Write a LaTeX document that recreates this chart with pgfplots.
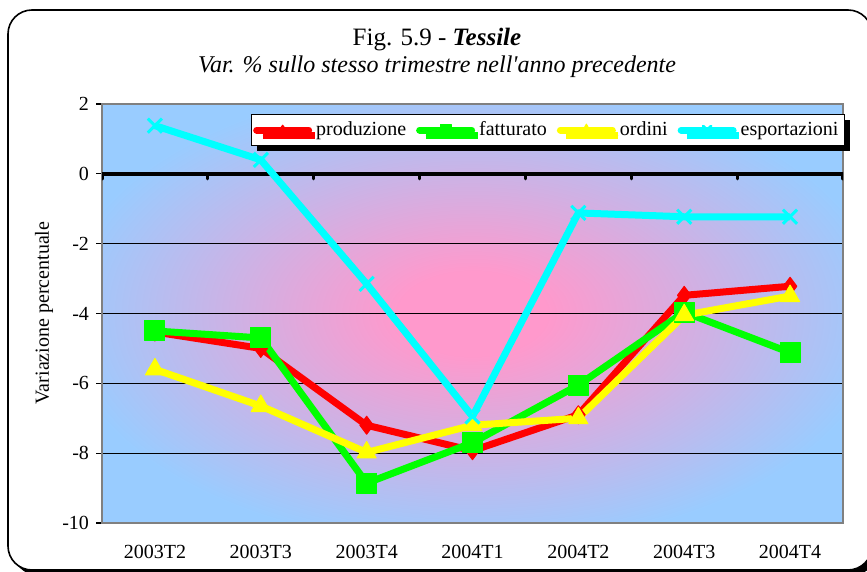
\documentclass[border=0pt]{standalone}
\usepackage{fontspec}
\setmainfont{Liberation Serif}
\usepackage{pgfplots}
\pgfplotsset{compat=1.18}
\usetikzlibrary{shadows}
\definecolor{bgpink}{HTML}{FF99CC}
\definecolor{bgblue}{HTML}{99CCFF}
\definecolor{cprod}{HTML}{FF0000}
\definecolor{cfatt}{HTML}{00FF00}
\definecolor{cord}{HTML}{FFFF00}
\definecolor{cesp}{HTML}{00FFFF}
\pgfdeclareradialshading{excelbg}{\pgfpoint{0bp}{0bp}}{color(0bp)=(bgpink); color(5bp)=(bgpink); color(28bp)=(bgblue); color(50bp)=(bgblue)}
\begin{document}
\begin{tikzpicture}
\fill[black, rounded corners=12pt] (6.5pt,-1.5pt) rectangle (438.5pt,278.5pt);
\draw[rounded corners=12pt, fill=white, line width=0.8pt] (4pt,1pt) rectangle (436pt,281pt);
\node[font=\fontsize{12.5}{14}\selectfont] at (218.5pt,266pt) {Fig. 5.9 - \textbf{\textit{Tessile}}};
\node[font=\fontsize{12}{14}\selectfont\itshape] at (218.5pt,252.5pt) {Var. \% sullo stesso trimestre nell\textquotesingle anno precedente};
\node[rotate=90, font=\fontsize{10}{12}\selectfont] at (22pt,129.5pt) {Variazione percentuale};
\begin{axis}[
  at={(51pt,24.5pt)}, anchor=south west,
  scale only axis, width=370.5pt, height=209.5pt,
  xmin=-0.5, xmax=6.5, ymin=-10, ymax=2,
  xtick={0,...,6},
  xticklabels={2003T2,2003T3,2003T4,2004T1,2004T2,2004T3,2004T4},
  xtick style={draw=none},
  xticklabel style={yshift=-4.5pt},
  ytick={-10,-8,...,2},
  ytick pos=left, tick align=outside, major tick length=3pt,
  ytick style={black, line width=0.6pt},
  ymajorgrids, grid style={black, line width=0.5pt},
  axis line style={draw=gray, line width=1.2pt},
  tick label style={font=\fontsize{10}{12}\selectfont},
  /pgf/number format/assume math mode=true,
  axis background/.style={shading=excelbg},
  every axis plot/.append style={line width=3.5pt, line join=round},
  legend columns=4,
  legend style={at={(1,1)}, anchor=north east, xshift=1pt, yshift=-5pt,
    draw=black, fill=white, line width=0.6pt,
    font=\fontsize{10}{12}\selectfont,
    inner xsep=1pt, inner ysep=1.5pt,
    drop shadow={fill=black, opacity=1, shadow xshift=3pt, shadow yshift=-2.5pt},
    /tikz/every even column/.append style={column sep=3pt}},
  legend image code/.code={\draw[mark repeat=2,mark phase=2,#1,line cap=round,every mark/.append style={scale=0.55}] plot coordinates {(0pt,0pt) (13pt,0pt) (26pt,0pt)};},
]
\draw[line width=2.2pt] (axis cs:-0.5,0) -- (axis cs:6.5,0);
\pgfplotsinvokeforeach{-0.5,0.5,1.5,2.5,3.5,4.5,5.5,6.5}{
  \draw[line width=1.6pt, line cap=round] (axis cs:#1,0) -- ([yshift=-2.5pt]axis cs:#1,0);
}
\addplot[color=cprod, mark=diamond*, mark size=4.5pt, mark options={solid, line width=0.5pt, fill=cprod}]
  coordinates {(0,-4.53) (1,-5.0) (2,-7.2) (3,-7.93) (4,-6.9) (5,-3.48) (6,-3.22)};
\addlegendentry{produzione}
\addplot[color=cfatt, mark=square*, mark size=5pt, mark options={solid, line width=0.5pt, fill=cfatt}]
  coordinates {(0,-4.5) (1,-4.7) (2,-8.86) (3,-7.7) (4,-6.05) (5,-3.96) (6,-5.12)};
\addlegendentry{fatturato}
\addplot[color=cord, mark=triangle*, mark size=5.5pt, mark options={solid, line width=0.5pt, fill=cord}]
  coordinates {(0,-5.6) (1,-6.65) (2,-7.98) (3,-7.2) (4,-7.0) (5,-4.05) (6,-3.5)};
\addlegendentry{ordini}
\addplot[color=cesp, mark=x, mark size=5pt, mark options={solid, line width=1.5pt}]
  coordinates {(0,1.38) (1,0.4) (2,-3.15) (3,-6.95) (4,-1.12) (5,-1.23) (6,-1.23)};
\addlegendentry{esportazioni}
\end{axis}
\pgfresetboundingbox
\path[use as bounding box] (0pt,0pt) rectangle (433.5pt,286pt);
\end{tikzpicture}
\end{document}
